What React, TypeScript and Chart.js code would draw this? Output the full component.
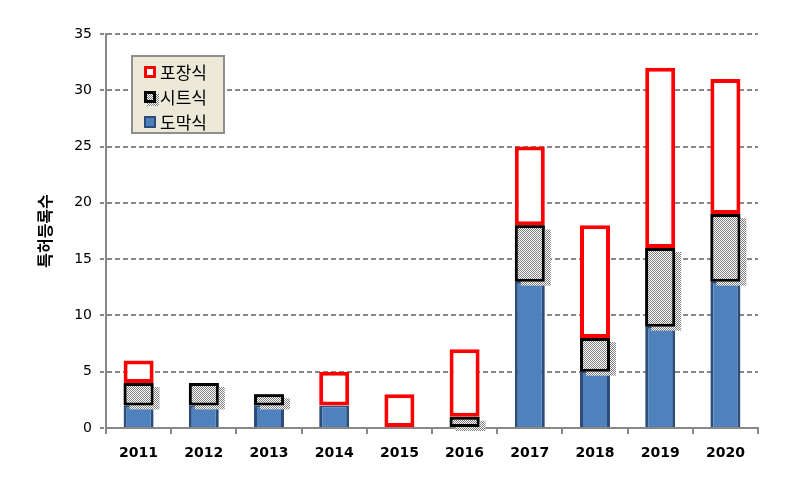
import React, { useEffect, useRef } from 'react';
import { Chart, registerables } from 'chart.js';

Chart.register(...registerables);

const years = ['2011', '2012', '2013', '2014', '2015', '2016', '2017', '2018', '2019', '2020'];
const coatingValues = [2, 2, 2, 2, 0, 0, 13, 5, 9, 13]; // 도막식
const sheetValues = [2, 2, 1, 0, 0, 1, 5, 3, 7, 6]; // 시트식
const pavingValues = [2, 0, 0, 3, 3, 6, 7, 10, 16, 12]; // 포장식
const seriesNames = ['도막식', '시트식', '포장식'];
const yAxisTitle = '특허등록수';
const yMax = 35;
const yStep = 5;

function makePattern(): CanvasPattern | string {
  const c = document.createElement('canvas');
  c.width = 2;
  c.height = 2;
  const x = c.getContext('2d');
  if (!x) return '#bbbbbb';
  x.fillStyle = '#ffffff';
  x.fillRect(0, 0, 2, 2);
  x.fillStyle = '#808080';
  x.fillRect(0, 0, 1, 1);
  x.fillRect(1, 1, 1, 1);
  return x.createPattern(c, 'repeat') || '#bbbbbb';
}

export default function App() {
  const ref = useRef<HTMLCanvasElement>(null);

  useEffect(() => {
    if (!ref.current) return;
    const pattern = makePattern();

    const shadowPlugin = {
      id: 'sheetShadow',
      afterDatasetsDraw(chart: any) {
        const meta = chart.getDatasetMeta(1);
        const ctx = chart.ctx;
        ctx.save();
        ctx.fillStyle = pattern;
        meta.data.forEach((el: any, i: number) => {
          if (!sheetValues[i]) return;
          const p = el.getProps(['x', 'y', 'base', 'width'], true);
          const top = Math.min(p.y, p.base);
          const h = Math.abs(p.base - p.y);
          ctx.fillRect(p.x - p.width / 2 + 6, top + 4, p.width, h);
        });
        meta.data.forEach((el: any, i: number) => {
          if (!sheetValues[i]) return;
          el.draw(ctx);
        });
        ctx.restore();
      },
    };

    const legendPlugin = {
      id: 'boxLegend',
      afterDraw(chart: any) {
        const ctx = chart.ctx;
        const area = chart.chartArea;
        const bx = area.left + 26;
        const by = area.top + 22;
        const bw = 92;
        const bh = 77;
        ctx.save();
        ctx.fillStyle = '#ECE9D8';
        ctx.fillRect(bx, by, bw, bh);
        ctx.strokeStyle = '#8f8f8f';
        ctx.lineWidth = 2;
        ctx.strokeRect(bx, by, bw, bh);
        const rows = [2, 1, 0];
        rows.forEach((di, r) => {
          const cy = by + 16 + r * 25;
          const ix = bx + 12;
          const iy = cy - 6;
          if (di === 2) {
            ctx.fillStyle = '#FF0000';
            ctx.fillRect(ix, iy, 12, 12);
            ctx.fillStyle = '#ffffff';
            ctx.fillRect(ix + 3, iy + 3, 6, 6);
          } else if (di === 1) {
            ctx.fillStyle = pattern;
            ctx.fillRect(ix + 3, iy + 3, 12, 12);
            ctx.fillRect(ix, iy, 12, 12);
            ctx.strokeStyle = '#000000';
            ctx.lineWidth = 3;
            ctx.strokeRect(ix + 1.5, iy + 1.5, 9, 9);
          } else {
            ctx.fillStyle = '#2C4D7A';
            ctx.fillRect(ix, iy, 12, 12);
            ctx.fillStyle = '#4F81BD';
            ctx.fillRect(ix + 2, iy + 2, 8, 8);
          }
          ctx.fillStyle = '#000000';
          ctx.font = '17px "Noto Sans CJK KR"';
          ctx.textBaseline = 'middle';
          ctx.textAlign = 'left';
          ctx.fillText(seriesNames[di], ix + 16, cy + 1);
        });
        ctx.restore();
      },
    };

    const chart = new Chart(ref.current, {
      type: 'bar',
      data: {
        labels: years,
        datasets: [
          {
            label: seriesNames[0],
            data: coatingValues,
            backgroundColor: '#4F81BD',
            borderColor: '#2C4D7A',
            borderWidth: { left: 3, right: 3, top: 2, bottom: 0 },
            borderSkipped: 'start',
            categoryPercentage: 1,
            barPercentage: 0.46,
          },
          {
            label: seriesNames[1],
            data: sheetValues,
            backgroundColor: pattern as any,
            borderColor: '#000000',
            borderWidth: 3,
            borderSkipped: false,
            categoryPercentage: 1,
            barPercentage: 0.46,
          },
          {
            label: seriesNames[2],
            data: pavingValues,
            backgroundColor: '#ffffff',
            borderColor: '#FF0000',
            borderWidth: 4,
            borderSkipped: false,
            categoryPercentage: 1,
            barPercentage: 0.46,
          },
        ],
      },
      options: {
        responsive: false,
        animation: false,
        layout: { padding: { left: 0, right: 28, top: 34, bottom: 0 } },
        plugins: {
          legend: { display: false },
          tooltip: { enabled: false },
        },
        scales: {
          x: {
            stacked: true,
            grid: {
              display: true,
              drawOnChartArea: false,
              offset: true,
              color: '#888888',
              lineWidth: 2,
              tickLength: 6,
            },
            border: { display: true, color: '#888888', width: 2 },
            ticks: {
              font: { family: 'DejaVu Sans', size: 14, weight: 'bold' },
              color: '#000000',
              padding: 11,
              maxRotation: 0,
            },
            afterFit: (s: any) => {
              s.height = 55;
            },
          },
          y: {
            stacked: true,
            min: 0,
            max: yMax,
            ticks: {
              stepSize: yStep,
              font: { family: 'DejaVu Sans', size: 14 },
              color: '#000000',
              padding: 8,
            },
            grid: {
              color: '#888888',
              lineWidth: 2,
              tickLength: 6,
              tickBorderDash: [4, 2],
            },
            border: { display: true, color: '#888888', width: 2, dash: [5, 3] },
            title: {
              display: true,
              text: yAxisTitle,
              font: { family: '"Noto Sans CJK KR"', size: 16, weight: 'bold' },
              color: '#000000',
              padding: { top: 35, bottom: 0 },
            },
            afterFit: (s: any) => {
              s.width = 106;
            },
          },
        },
      },
      plugins: [shadowPlugin, legendPlugin],
    } as any);

    return () => chart.destroy();
  }, []);

  return (
    <div style={{ position: 'absolute', left: 0, top: 0, width: 786, height: 483, background: '#ffffff' }}>
      <canvas ref={ref} width={786} height={483} />
    </div>
  );
}
